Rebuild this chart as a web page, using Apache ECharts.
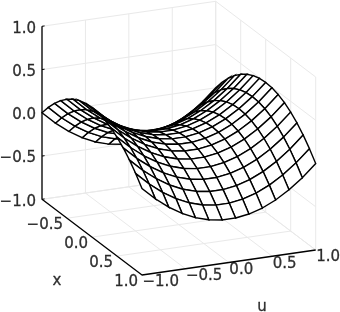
<!DOCTYPE html>
<html><head><meta charset="utf-8">
<style>html,body{margin:0;padding:0;background:#fff}#c{width:340px;height:312px}</style>
<script src="https://cdn.jsdelivr.net/npm/echarts@6/dist/echarts.min.js"></script>
</head><body><div id="c"></div>
<script>
const xValues=[-1,-0.875,-0.75,-0.625,-0.5,-0.375,-0.25,-0.125,0,0.125,0.25,0.375,0.5,0.625,0.75,0.875,1];
const uValues=[-1,-0.846,-0.692,-0.538,-0.385,-0.231,-0.077,0.077,0.231,0.385,0.538,0.692,0.846,1];
const rowA=[0,-.142,-.260,-.355,-.426,-.473,-.497,-.497,-.473,-.426,-.355,-.260,-.142,0];
const rowB=[.117,-.025,-.143,-.238,-.309,-.356,-.380,-.380,-.356,-.309,-.238,-.143,-.025,.117];
const rowC=[.219,.077,-.041,-.136,-.207,-.254,-.278,-.278,-.254,-.207,-.136,-.041,.077,.219];
const rowD=[.305,.163,.045,-.050,-.121,-.168,-.192,-.192,-.168,-.121,-.050,.045,.163,.305];
const rowE=[.375,.233,.115,.020,-.051,-.098,-.122,-.122,-.098,-.051,.020,.115,.233,.375];
const rowF=[.430,.288,.170,.075,.004,-.043,-.067,-.067,-.043,.004,.075,.170,.288,.430];
const rowG=[.469,.327,.209,.114,.043,-.004,-.028,-.028,-.004,.043,.114,.209,.327,.469];
const rowH=[.492,.350,.232,.137,.066,.019,-.005,-.005,.019,.066,.137,.232,.350,.492];
const rowI=[.500,.358,.240,.145,.074,.027,.003,.003,.027,.074,.145,.240,.358,.500];
const zRows=[rowA,rowB,rowC,rowD,rowE,rowF,rowG,rowH,rowI,rowH,rowG,rowF,rowE,rowD,rowC,rowB,rowA];
const xTicks=[-0.5,0,0.5,1];
const uTicks=[-1,-0.5,0,0.5,1];
const zTicks=[-1,-0.5,0,0.5,1];
const fmt=v=>(v<0?'\u2212':'')+Math.abs(v).toFixed(1);

// orthographic view of the cube [-1,1]^3
function proj(x,u,z){return [178.85+50*x+86.85*u, 138.15+37.85*x-12.5*u-86.5*z];}
function line3(pts,color,width,z){
  return {type:'line',data:pts.map(p=>proj(p[0],p[1],p[2])),showSymbol:false,symbol:'none',silent:true,
    lineStyle:{color,width},clip:false,z,animation:false};
}
const series=[];
const G='#e9e9e9';
zTicks.forEach(t=>{
  series.push(line3([[-1,-1,t],[-1,1,t],[1,1,t]],G,1,1));
});
uTicks.forEach(t=>{
  series.push(line3([[-1,t,1],[-1,t,-1],[1,t,-1]],G,1,1));
});
[-1,-0.5,0,0.5,1].forEach(t=>{
  series.push(line3([[t,-1,-1],[t,1,-1],[t,1,1]],G,1,1));
});
series.push(line3([[-1,-1,1],[-1,-1,-1],[1,-1,-1],[1,1,-1]],'#000',1.3,3));
zTicks.forEach(t=>{
  series.push(line3([[-1,-1,t],[-1,-0.97,t]],'#000',1,3));
});

// surface cells, far to near
const cells=[];
for(let i=0;i<xValues.length-1;i++){
  for(let j=uValues.length-2;j>=0;j--){
    const c=[[i,j],[i+1,j],[i+1,j+1],[i,j+1]];
    const flat=[];
    c.forEach(k=>{flat.push(...proj(xValues[k[0]],uValues[k[1]],zRows[k[0]][k[1]]));});
    cells.push(flat);
  }
}
series.push({type:'custom',data:cells,silent:true,z:4,clip:false,animation:false,
  encode:{x:[0,2,4,6],y:[1,3,5,7]},
  renderItem(params,api){
    const pts=[];
    for(let k=0;k<4;k++)pts.push(api.coord([api.value(2*k),api.value(2*k+1)]));
    return {type:'polygon',shape:{points:pts},style:{fill:'#fff',stroke:'#000',lineWidth:1.4}};
  }});

// tick labels
const labels=[];
zTicks.forEach(t=>{const p=proj(-1,-1,t);labels.push({value:[p[0]-6,p[1]+2.5],text:fmt(t),align:'right'});});
xTicks.forEach(t=>{const p=proj(t,-1,-1);labels.push({value:[p[0]-4,p[1]+7],text:fmt(t),align:'right'});});
uTicks.forEach(t=>{const p=proj(1,t,-1);labels.push({value:[p[0]+0.5,p[1]+7.5],text:fmt(t),align:'left'});});
labels.push({value:[57,281.5],text:'x',align:'center'});
labels.push({value:[262,307.5],text:'u',align:'center'});
series.push({type:'scatter',symbolSize:0,silent:true,z:5,clip:false,animation:false,
  data:labels.map(l=>({value:l.value,label:{show:true,position:'inside',formatter:l.text,align:l.align,verticalAlign:'middle',
    color:'#000',fontFamily:'DejaVu Sans',fontSize:15,textBorderColor:'#000',textBorderWidth:0.3}}))});

const chart=echarts.init(document.getElementById('c'),null,{renderer:'canvas'});
chart.setOption({animation:false,backgroundColor:'#fff',
  grid:{left:0,right:0,top:0,bottom:0},
  xAxis:{type:'value',min:0,max:340,show:false},
  yAxis:{type:'value',min:0,max:312,inverse:true,show:false},
  series});
</script></body></html>
